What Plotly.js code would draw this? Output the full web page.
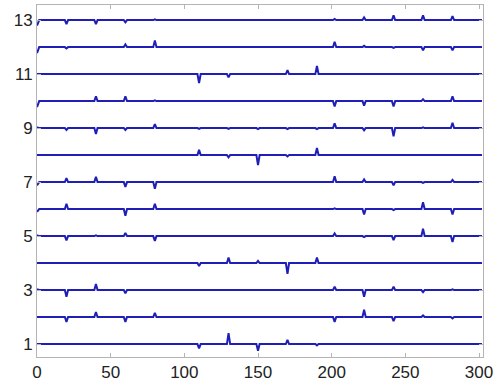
<!DOCTYPE html>
<html>
<head>
<meta charset="utf-8">
<script src="https://cdn.plot.ly/plotly-3.0.1.min.js"></script>
<style>html,body{margin:0;padding:0;background:#fff;}#chart{width:496px;height:382px;}</style>
</head>
<body>
<div id="chart"></div>
<script>
// x positions of the spikes (shared by all traces)
const spikeX = [20, 40, 60, 80, 110, 130, 150, 170, 190, 202, 222, 242, 262, 282];
// spike amplitudes for each trace (offset from its baseline)
const row1  = [0, 0.02, 0.02, 0, -0.16, 0.4, -0.25, 0.15, -0.05, 0, 0, 0, 0, 0];
const row2  = [-0.18, 0.18, -0.18, 0.16, 0, 0, 0, 0, 0, -0.18, 0.27, -0.15, 0.06, -0.05];
const row3  = [-0.25, 0.22, -0.12, 0.02, 0, 0, 0, 0, 0, 0.12, -0.25, 0.12, -0.08, 0.03];
const row4  = [0.02, 0, 0, 0, -0.11, 0.2, 0.08, -0.4, 0.2, 0, 0, 0, 0, 0];
const row5  = [-0.16, 0.03, 0.11, -0.18, 0, 0, 0, 0, 0, 0.1, -0.04, -0.15, 0.27, -0.22];
const row6  = [0.2, 0, -0.25, 0.2, 0, 0, 0, 0, 0, 0.03, -0.2, -0.04, 0.25, -0.2];
const row7  = [0.15, 0.2, -0.18, -0.25, 0, 0, 0, 0, 0, 0.22, 0.1, -0.12, -0.03, 0.08];
const row8  = [0, 0, 0, 0, 0.2, -0.08, -0.37, -0.05, 0.26, 0, 0, 0, 0, 0];
const row9  = [-0.07, -0.22, -0.07, 0.15, -0.03, -0.03, -0.04, -0.04, -0.04, 0.18, -0.08, -0.3, 0.03, 0.2];
const row10 = [0, 0.18, 0.18, 0.03, 0, 0, 0, 0, 0, -0.2, -0.17, -0.2, 0.07, 0.18];
const row11 = [0, 0, 0, 0, -0.33, -0.12, 0.02, 0.15, 0.3, 0, 0, 0, 0, 0];
const row12 = [-0.05, 0, 0.1, 0.25, 0, 0, 0, 0, 0, 0.2, 0.05, -0.03, -0.12, -0.12];
const row13 = [-0.15, -0.15, -0.08, 0.03, 0, 0, 0, 0, 0, 0.04, 0.1, 0.18, 0.18, 0.15];
// starting transient (value at x = 0, relative to baseline)
const startOffset = [0, 0, 0.03, 0, 0.03, -0.1, -0.12, 0, 0.03, -0.22, 0, -0.22, -0.2];
const baselines = [1, 2, 3, 4, 5, 6, 7, 8, 9, 10, 11, 12, 13];
const xEnd = 302;
const xTicks = [0, 50, 100, 150, 200, 250, 300];
const yTicks = [1, 3, 5, 7, 9, 11, 13];

const rows = [row1, row2, row3, row4, row5, row6, row7, row8, row9, row10, row11, row12, row13];
const halfW = 1.1;
const traces = rows.map((amps, i) => {
  const base = baselines[i];
  const xs = [0, 1.5], ys = [base + startOffset[i], base];
  spikeX.forEach((sx, k) => {
    if (amps[k] !== 0) {
      xs.push(sx - halfW, sx, sx + halfW);
      ys.push(base, base + amps[k], base);
    }
  });
  xs.push(xEnd); ys.push(base);
  return {x: xs, y: ys, type: 'scatter', mode: 'lines',
          line: {color: '#1f1fb8', width: 2}, showlegend: false, hoverinfo: 'skip'};
});

const axisCommon = {
  showgrid: false, zeroline: false, showline: true, mirror: 'ticks',
  linecolor: '#b4b4b4', linewidth: 1, ticks: 'inside', ticklen: 4,
  tickcolor: '#b4b4b4', tickfont: {family: 'Liberation Sans, Arial, sans-serif', size: 17, color: '#222'}
};

const layout = {
  width: 496, height: 382,
  margin: {l: 37, r: 13, t: 5, b: 25, pad: 0},
  paper_bgcolor: '#fff', plot_bgcolor: '#fff',
  xaxis: Object.assign({}, axisCommon, {range: [0, 302.7], tickvals: xTicks, ticktext: xTicks.map(String)}),
  yaxis: Object.assign({}, axisCommon, {range: [0.52, 13.56], tickvals: yTicks, ticktext: yTicks.map(String)})
};

Plotly.newPlot('chart', traces, layout, {staticPlot: true, displayModeBar: false});
</script>
</body>
</html>
